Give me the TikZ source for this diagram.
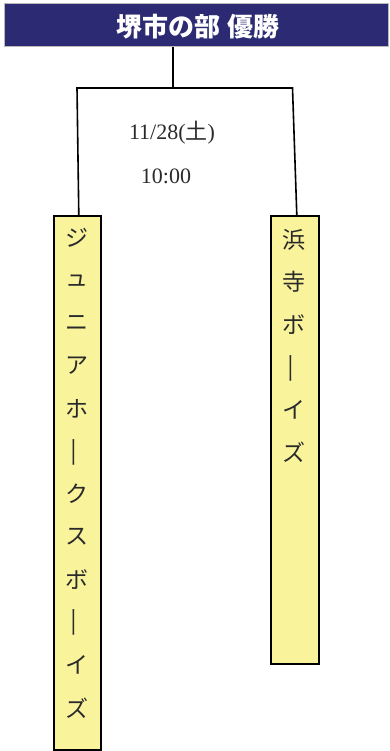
\documentclass[tikz,border=0pt]{standalone}
\usepackage{fontspec}
\setmainfont{Liberation Serif}
\newfontfamily\cjk{Noto Sans CJK JP}
\definecolor{navy}{HTML}{2B2A72}
\definecolor{yel}{HTML}{F9F49C}
\definecolor{ink}{HTML}{2A2A2A}
\newcommand{\vbar}{\rotatebox{90}{\scalebox{1.4}[0.75]{ー}}}
\tikzset{
  teambox/.style={draw=black, fill=yel, line width=1.6pt, inner sep=0pt, anchor=north west},
  conn/.style={draw=black, line width=1.6pt, line join=miter},
  vchar/.style={inner sep=0pt, text=ink, font=\cjk\fontsize{23}{23}\selectfont},
  datetext/.style={inner sep=0pt, text=ink, font=\fontsize{22}{26}\selectfont},
}
\begin{document}
\begin{tikzpicture}[x=1pt,y=-1pt]
\useasboundingbox (0,0) rectangle (390,751);
\node[draw=gray!55, fill=navy, line width=1pt, minimum width=384pt, minimum height=43pt, inner sep=0pt, anchor=north west] (hdr) at (4,3) {};
\node[text=white, inner sep=0pt, font=\cjk\bfseries\fontsize{26}{26}\selectfont] (title) at (198,27) {堺市の部\hspace{0.3em}優勝};
\node[teambox, minimum width=47pt, minimum height=534pt] (L) at (53,215) {};
\node[teambox, minimum width=48pt, minimum height=448pt] (R) at (270,215) {};
\coordinate (t) at (173,88);
\coordinate (a) at (77,88);
\coordinate (b) at (292.5,88);
\draw[conn] (hdr.south -| t) -- (t);
\draw[conn] ([xshift=1.5pt]L.north) -- (a) -- (b) -- ([xshift=2pt]R.north);
\node[datetext] (d1) at (172,133) {11/28({\cjk 土})};
\node[datetext] (d2) at (166,176) {10:00};
\foreach \c/\y [count=\i] in {ジ/238, ュ/281, ニ/323, ア/366, ホ/409, {\vbar}/452, ク/494, ス/537, ボ/580, {\vbar}/622, イ/665, ズ/708}
  \node[vchar] (L\i) at (76.5,\y) {\c};
\foreach \c/\y [count=\i] in {浜/240, 寺/282, ボ/325, {\vbar}/368, イ/410, ズ/452}
  \node[vchar] (R\i) at (294,\y) {\c};
\end{tikzpicture}
\end{document}
